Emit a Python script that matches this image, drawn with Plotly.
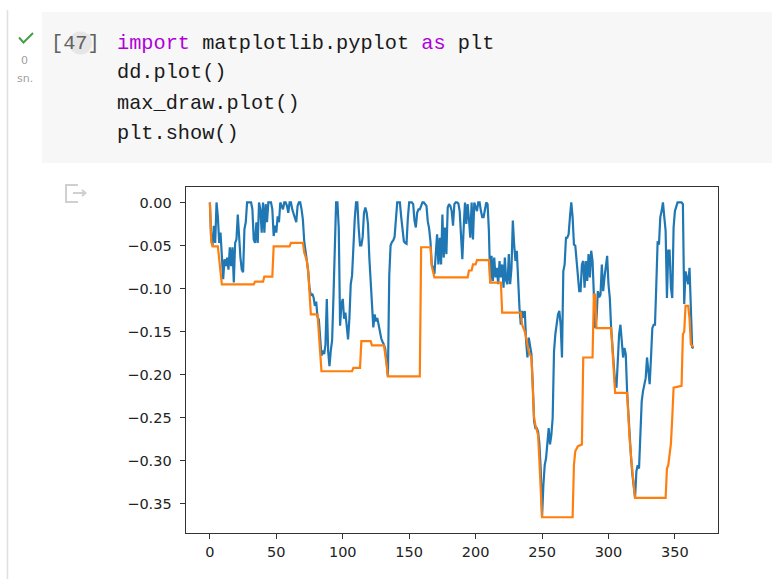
import plotly.graph_objects as go

W, H = 772, 579

# Drawdown series (dd), one value per day index
dd = [
    0, -0.043, -0.050, -0.027, -0.047, 0, -0.016, -0.047, -0.035, -0.070,
    -0.089, -0.066, -0.074, -0.064, -0.078, -0.052, -0.074, -0.052, -0.093, -0.047,
    -0.043, -0.014, -0.047, -0.064, -0.078, -0.081, -0.031, -0.023, 0, 0,
    0, 0, -0.008, -0.043, -0.047, -0.023, -0.047, 0, -0.008, -0.035,
    0, -0.035, -0.002, -0.023, 0, 0, 0, -0.008, -0.039, -0.027,
    -0.035, -0.016, -0.023, 0, -0.004, -0.008, 0, 0, -0.004, -0.012,
    0, 0, -0.008, -0.012, -0.018, -0.023, -0.004, 0, 0, -0.008,
    -0.020, -0.045, -0.060, -0.068, -0.080, -0.100, -0.108, -0.106, -0.110, -0.120,
    -0.115, -0.133, -0.136, -0.160, -0.178, -0.172, -0.176, -0.165, -0.112, -0.172,
    -0.190, -0.172, -0.160, -0.110, -0.040, 0, 0, -0.030, -0.143, -0.118,
    -0.112, -0.135, -0.128, -0.142, -0.159, -0.135, -0.095, -0.085, -0.050, -0.020,
    0, 0, -0.030, -0.050, -0.050, -0.040, -0.012, -0.006, -0.012, -0.025,
    -0.064, -0.095, -0.126, -0.145, -0.130, -0.138, -0.134, -0.142, -0.153, -0.158,
    -0.162, -0.165, -0.170, -0.184, -0.202, -0.085, -0.050, -0.046, -0.044, -0.040,
    -0.015, 0, 0, 0, -0.017, -0.035, -0.045, -0.047, -0.048, -0.018,
    0, 0, 0, -0.002, -0.021, -0.029, -0.012, -0.008, -0.008, -0.004,
    0, 0, -0.002, -0.004, -0.022, -0.030, -0.045, -0.072, -0.076, -0.083,
    -0.060, -0.037, -0.072, -0.041, -0.072, -0.014, -0.064, -0.029, -0.060, -0.006,
    -0.002, -0.004, -0.010, -0.027, -0.002, 0, 0, -0.001, -0.010, -0.033,
    -0.066, -0.030, 0, -0.025, -0.002, -0.020, -0.041, 0, -0.043, 0,
    -0.004, -0.010, 0, 0, -0.010, -0.017, -0.017, -0.010, 0, -0.002,
    -0.033, -0.093, -0.062, -0.091, -0.064, -0.087, -0.076, -0.095, -0.068, -0.087,
    -0.072, -0.099, -0.064, -0.091, -0.095, -0.060, -0.095, -0.076, -0.021, -0.049,
    -0.068, -0.056, -0.095, -0.122, -0.142, -0.126, -0.134, -0.126, -0.161, -0.180,
    -0.157, -0.165, -0.176, -0.211, -0.254, -0.262, -0.262, -0.266, -0.280, -0.310,
    -0.3655, -0.328, -0.305, -0.297, -0.281, -0.262, -0.281, -0.270, -0.250, -0.173,
    -0.153, -0.142, -0.130, -0.126, -0.142, -0.180, -0.080, -0.072, -0.041, -0.041,
    -0.037, -0.017, 0, -0.017, -0.049, -0.050, -0.068, -0.090, -0.103, -0.103,
    -0.072, -0.068, -0.099, -0.068, -0.091, -0.060, -0.087, -0.056, -0.068, -0.107,
    -0.146, -0.134, -0.103, -0.110, -0.107, -0.072, -0.103, -0.087, -0.076, -0.062,
    -0.095, -0.111, -0.146, -0.165, -0.188, -0.211, -0.215, -0.180, -0.153, -0.142,
    -0.165, -0.180, -0.169, -0.176, -0.219, -0.250, -0.274, -0.297, -0.316, -0.330,
    -0.343, -0.312, -0.305, -0.309, -0.278, -0.231, -0.219, -0.211, -0.204, -0.180,
    -0.196, -0.211, -0.180, -0.146, -0.142, -0.142, -0.095, -0.045, -0.049, -0.017,
    -0.010, 0, -0.017, -0.033, -0.111, -0.056, -0.056, -0.099, -0.111, -0.029,
    -0.010, -0.004, 0, 0, 0, 0, -0.002, -0.118, -0.080, -0.087,
    -0.095, -0.076, -0.118, -0.169, -0.168,
]
dd_index = list(range(len(dd)))

# Rolling maximum drawdown (max_draw), given at the days where it changes
max_draw_index = [
    0, 1, 2, 6, 9, 33, 34, 40, 41, 47, 48, 60, 61, 70, 71, 73, 74, 75, 76, 81,
    82, 83, 84, 107, 108, 113, 114, 121, 122, 131, 132, 133, 134, 158, 159, 166, 167, 169, 193, 194,
    195, 197, 198, 200, 201, 210, 211, 219, 220, 234, 235, 237, 238, 240, 242, 243, 244, 245, 246, 247,
    248, 249, 250, 273, 274, 275, 277, 280, 281, 288, 289, 290, 291, 302, 303, 305, 314, 315, 316, 318,
    320, 343, 344, 345, 347, 348, 349, 355, 356, 357, 358, 360, 361, 362, 364,
]
max_draw = [
    0, -0.045, -0.051, -0.051, -0.095, -0.095, -0.092, -0.092, -0.086, -0.086,
    -0.051, -0.051, -0.047, -0.047, -0.058, -0.068, -0.080, -0.105, -0.130, -0.130,
    -0.150, -0.175, -0.196, -0.196, -0.192, -0.192, -0.161, -0.161, -0.166, -0.166,
    -0.175, -0.188, -0.202, -0.202, -0.052, -0.052, -0.074, -0.087, -0.087, -0.087,
    -0.079, -0.079, -0.072, -0.072, -0.067, -0.067, -0.093, -0.093, -0.128, -0.128,
    -0.142, -0.150, -0.157, -0.173, -0.180, -0.211, -0.250, -0.258, -0.265, -0.270,
    -0.300, -0.330, -0.3655, -0.3655, -0.305, -0.289, -0.283, -0.281, -0.180, -0.180,
    -0.107, -0.107, -0.146, -0.146, -0.173, -0.221, -0.221, -0.250, -0.277, -0.312,
    -0.343, -0.343, -0.309, -0.305, -0.280, -0.250, -0.215, -0.213, -0.153, -0.150,
    -0.120, -0.120, -0.135, -0.165, -0.168,
]

x_ticks = [0, 50, 100, 150, 200, 250, 300, 350]
y_ticks = [0.00, -0.05, -0.10, -0.15, -0.20, -0.25, -0.30, -0.35]
y_tick_text = [f"{v:.2f}".replace("-", "\u2212") for v in y_ticks]

code_lines = [
    '<span style="color:#af00db">import</span> matplotlib.pyplot <span style="color:#af00db">as</span> plt',
    "dd.plot()",
    "max_draw.plot()",
    "plt.show()",
]


def px(x):
    return x / W


def py(y):
    return 1 - y / H


fig = go.Figure()
fig.add_trace(go.Scatter(x=dd_index, y=dd, mode="lines",
                         line=dict(color="#1f77b4", width=2.2), showlegend=False))
fig.add_trace(go.Scatter(x=max_draw_index, y=max_draw, mode="lines",
                         line=dict(color="#ff7f0e", width=2.2), showlegend=False))

axis_font = dict(family="DejaVu Sans", size=14.5, color="#222222")
fig.update_layout(
    width=W, height=H,
    margin=dict(l=0, r=0, t=0, b=0),
    paper_bgcolor="white", plot_bgcolor="white",
    xaxis=dict(
        domain=[px(185.7), px(717.7)], range=[-18.2, 382.2],
        tickvals=x_ticks, ticks="outside", ticklen=5, tickwidth=1, tickcolor="#333333",
        showline=True, mirror=True, linecolor="#333333", linewidth=1.2,
        showgrid=False, zeroline=False, tickfont=axis_font,
    ),
    yaxis=dict(
        domain=[py(533), py(186.7)], range=[-0.3838, 0.0183],
        tickvals=y_ticks, ticktext=y_tick_text, ticks="outside", ticklen=5, tickwidth=1,
        tickcolor="#333333", ticklabelstandoff=5,
        showline=True, mirror=True, linecolor="#333333", linewidth=1.2,
        showgrid=False, zeroline=False, tickfont=axis_font,
    ),
)

shapes = [
    # code cell background
    dict(type="rect", xref="paper", yref="paper", x0=px(42), x1=px(772), y0=py(163), y1=py(12),
         fillcolor="#f7f7f7", line=dict(width=0), layer="below"),
    # left gutter rule
    dict(type="line", xref="paper", yref="paper", x0=px(7.5), x1=px(7.5), y0=py(579), y1=py(10),
         line=dict(color="#e0e0e0", width=1.5)),
    # execution-count bubble
    dict(type="circle", xref="paper", yref="paper", x0=px(69), x1=px(92), y0=py(54.5), y1=py(31.5),
         fillcolor="#e6e6e6", line=dict(width=0)),
    # run check mark
    dict(type="path", xref="paper", yref="paper",
         path=f"M {px(19)},{py(37.5)} L {px(23.5)},{py(42.5)} L {px(33)},{py(33)}",
         line=dict(color="#43a047", width=2)),
    # output icon: box
    dict(type="path", xref="paper", yref="paper",
         path=f"M {px(78)},{py(185)} L {px(66)},{py(185)} L {px(66)},{py(202)} L {px(78)},{py(202)}",
         line=dict(color="#d0d0d0", width=2)),
    # output icon: arrow
    dict(type="path", xref="paper", yref="paper",
         path=(f"M {px(73)},{py(193)} L {px(85)},{py(193)} "
               f"M {px(82)},{py(190)} L {px(85.5)},{py(193)} L {px(82)},{py(196)}"),
         line=dict(color="#d0d0d0", width=2)),
]
fig.update_layout(shapes=shapes)

mono = "Liberation Mono, DejaVu Sans Mono, monospace"
annotations = [
    dict(text="0", x=px(24.5), y=py(60), font=dict(family="DejaVu Sans", size=11, color="#a0a0a0")),
    dict(text="sn.", x=px(24.5), y=py(78), font=dict(family="DejaVu Sans", size=11, color="#a0a0a0")),
]
annotations.append(dict(text="[47]", x=px(49), y=py(43), xanchor="left",
                        font=dict(family=mono, size=20.3, color="#616161")))
for k, line in enumerate(code_lines):
    annotations.append(dict(text=line, x=px(115), y=py(43 + 30 * k), xanchor="left",
                            font=dict(family=mono, size=20.3, color="#1a1a1a")))
for a in annotations:
    a.update(xref="paper", yref="paper", showarrow=False, yanchor="middle")
    a.setdefault("xanchor", "center")
fig.update_layout(annotations=annotations)

fig.write_html("out.html")
